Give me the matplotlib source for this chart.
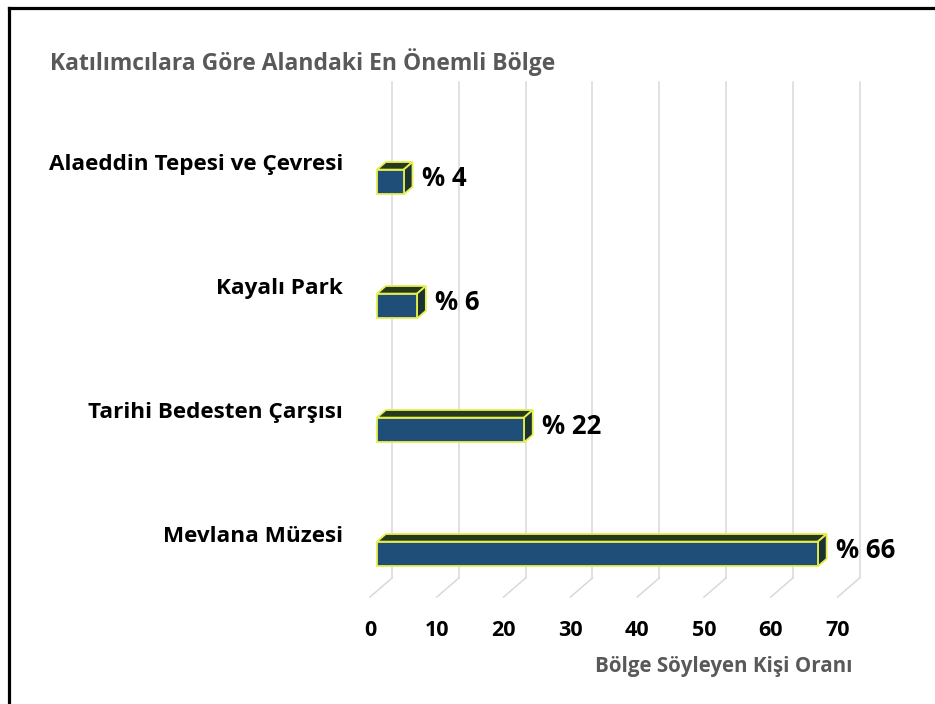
#Grafik: katılımcılara göre alandaki en önemli bölge (yatay 3B görünümlü çubuklar)

import matplotlib.pyplot as plt
from matplotlib.patches import Polygon
from matplotlib.lines import Line2D

plt.rcParams['font.family'] = ['Open Sans', 'DejaVu Sans']

#VERİ#
bolgeler = ["Mevlana Müzesi", "Tarihi Bedesten Çarşısı", "Kayalı Park",
            "Alaeddin Tepesi ve Çevresi"]
oranlar = [66, 22, 6, 4]
eksen_degerleri = [0, 10, 20, 30, 40, 50, 60, 70]

baslik = "Katılımcılara Göre Alandaki En Önemli Bölge"
eksen_basligi = "Bölge Söyleyen Kişi Oranı"

#GÖRÜNÜM AYARLARI#
DX, DY = 3.29, 0.153          # arka düzleme kayma (derinlik)
ZEMIN_ON, ZEMIN_ARKA = -0.347, -0.194
UST = 3.806
CUBUK_H = 0.2
CUBUK_X0 = 0.318 * DX         # çubuğun ön yüzü zemin ortasına yakın
DERIN_X, DERIN_Y = 0.4 * DX, 0.4 * DY

ON_RENK = "#1f4e79"
UST_RENK = "#26391d"
YAN_RENK = "#1b3333"
KENAR = "#e6ef4c"


def cubuk_ciz(ax, y, deger):
    x0 = CUBUK_X0
    x1 = x0 + deger
    alt, ust = y - CUBUK_H / 2, y + CUBUK_H / 2
    on = [(x0, alt), (x1, alt), (x1, ust), (x0, ust)]
    tepe = [(x0, ust), (x1, ust), (x1 + DERIN_X, ust + DERIN_Y),
            (x0 + DERIN_X, ust + DERIN_Y)]
    yan = [(x1, alt), (x1 + DERIN_X, alt + DERIN_Y),
           (x1 + DERIN_X, ust + DERIN_Y), (x1, ust)]
    for yuz, renk in ((tepe, UST_RENK), (yan, YAN_RENK), (on, ON_RENK)):
        ax.add_patch(Polygon(yuz, closed=True, facecolor=renk,
                             edgecolor=KENAR, linewidth=1.3, zorder=3))
    ax.text(x1 + DERIN_X + 1.4, y + 0.03, "% " + str(deger), fontsize=18.5,
            fontweight='bold', color='black', ha='left', va='center', zorder=4)


fig = plt.figure(figsize=(9.35, 7.04), dpi=100)
ax = fig.add_axes([0, 0, 1, 1])
ax.set_xlim(-55.39, 84.58)
ax.set_ylim(-1.2097, 4.4677)
ax.axis('off')

# ızgara çizgileri: arka duvar + zemindeki çapraz çizgiler
for v in eksen_degerleri:
    ax.plot([v + DX, v + DX], [ZEMIN_ARKA, UST], color="#d9d9d9", lw=1.1, zorder=1)
    ax.plot([v + DX, v], [ZEMIN_ARKA, ZEMIN_ON], color="#d9d9d9", lw=1.1, zorder=1)
    ax.text(v, -0.62, str(v), fontsize=15.5, fontweight='bold', color='black',
            ha='center', va='center')

for i, (bolge, deger) in enumerate(zip(bolgeler, oranlar)):
    cubuk_ciz(ax, i, deger)
    ax.text(-4.04, i + 0.145, bolge, fontsize=16.2, fontweight='bold',
            color='black', ha='right', va='center')

ax.text(-47.9, 3.97, baslik, fontsize=16.5, fontweight='bold', color="#595959",
        ha='left', va='center')
ax.text(72.2, -0.91, eksen_basligi, fontsize=14.8, fontweight='bold',
        color="#595959", ha='right', va='center')

# sol ve üst siyah çerçeve
fig.add_artist(Line2D([0.0091, 0.0091], [0, 0.9893], color='black', lw=2.3,
                      solid_capstyle='projecting'))
fig.add_artist(Line2D([0.0091, 1], [0.9893, 0.9893], color='black', lw=2.3,
                      solid_capstyle='projecting'))

fig.savefig("out.png", dpi=100)
